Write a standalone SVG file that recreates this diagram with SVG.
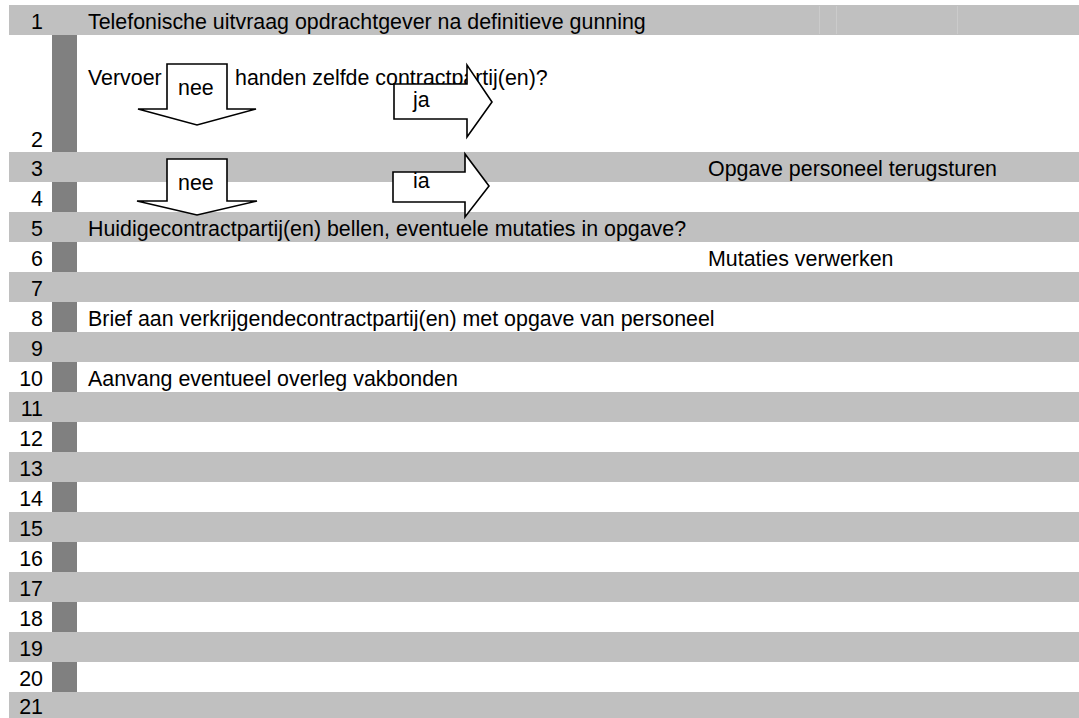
<svg xmlns="http://www.w3.org/2000/svg" width="1079" height="718" viewBox="0 0 1079 718">
<style>
text{font-family:"Liberation Sans",Arial,sans-serif;font-size:21.4px;fill:#000}
.num{text-anchor:end}
.band{fill:#c0c0c0}
.mark{fill:#808080}
.arrow{fill:#fff;stroke:#000;stroke-width:1.6;stroke-linejoin:miter}
.grid{stroke:#cbcbcb;stroke-width:1}
</style>
<rect x="0" y="0" width="1079" height="718" fill="#fff"/>
<g id="bands">
<rect class="band" x="9" y="5" width="1070" height="30"/>
<rect class="band" x="9" y="152" width="1070" height="30"/>
<rect class="band" x="9" y="212" width="1070" height="30"/>
<rect class="band" x="9" y="272" width="1070" height="30"/>
<rect class="band" x="9" y="332" width="1070" height="30"/>
<rect class="band" x="9" y="392" width="1070" height="30"/>
<rect class="band" x="9" y="452" width="1070" height="30"/>
<rect class="band" x="9" y="512" width="1070" height="30"/>
<rect class="band" x="9" y="572" width="1070" height="30"/>
<rect class="band" x="9" y="632" width="1070" height="30"/>
<rect class="band" x="9" y="692" width="1070" height="26"/>
</g>
<g id="marks">
<rect class="mark" x="52" y="35" width="25" height="117"/>
<rect class="mark" x="52" y="182" width="25" height="30"/>
<rect class="mark" x="52" y="242" width="25" height="30"/>
<rect class="mark" x="52" y="302" width="25" height="30"/>
<rect class="mark" x="52" y="362" width="25" height="30"/>
<rect class="mark" x="52" y="422" width="25" height="30"/>
<rect class="mark" x="52" y="482" width="25" height="30"/>
<rect class="mark" x="52" y="542" width="25" height="30"/>
<rect class="mark" x="52" y="602" width="25" height="30"/>
<rect class="mark" x="52" y="662" width="25" height="30"/>
</g>
<g id="gridlines">
<line class="grid" x1="819.5" y1="6" x2="819.5" y2="34"/>
<line class="grid" x1="836.5" y1="6" x2="836.5" y2="34"/>
<line class="grid" x1="957.5" y1="6" x2="957.5" y2="34"/>
</g>
<g id="row-numbers">
<text class="num" x="43" y="29">1</text>
<text class="num" x="43" y="147">2</text>
<text class="num" x="43" y="176">3</text>
<text class="num" x="43" y="206">4</text>
<text class="num" x="43" y="236">5</text>
<text class="num" x="43" y="266">6</text>
<text class="num" x="43" y="296">7</text>
<text class="num" x="43" y="326">8</text>
<text class="num" x="43" y="356">9</text>
<text class="num" x="43" y="386">10</text>
<text class="num" x="43" y="416">11</text>
<text class="num" x="43" y="446">12</text>
<text class="num" x="43" y="476">13</text>
<text class="num" x="43" y="506">14</text>
<text class="num" x="43" y="536">15</text>
<text class="num" x="43" y="566">16</text>
<text class="num" x="43" y="596">17</text>
<text class="num" x="43" y="626">18</text>
<text class="num" x="43" y="656">19</text>
<text class="num" x="43" y="686">20</text>
<text class="num" x="43" y="714">21</text>
</g>
<g id="step1"><text x="88" y="29">Telefonische uitvraag opdrachtgever na definitieve gunning</text></g>
<g id="step2"><text x="88" y="85">Vervoer</text><text x="235" y="85">handen zelfde contractpartij(en)?</text></g>
<g id="step3"><text x="708" y="176">Opgave personeel terugsturen</text></g>
<g id="step5"><text x="88" y="236">Huidigecontractpartij(en) bellen, eventuele mutaties in opgave?</text></g>
<g id="step6"><text x="708" y="266">Mutaties verwerken</text></g>
<g id="step8"><text x="88" y="326">Brief aan verkrijgendecontractpartij(en) met opgave van personeel</text></g>
<g id="step10"><text x="88" y="386">Aanvang eventueel overleg vakbonden</text></g>
<g id="connectors">
<g id="nee1"><polygon class="arrow" points="167,64 227,64 227,109 256,109 197,125 138,109 167,109"/><text x="178" y="95">nee</text></g>
<g id="ja1"><polygon class="arrow" points="394,84 467,84 467,65 492,102 467,137 467,119 394,119"/><text x="413" y="107">ja</text></g>
<g id="nee2"><polygon class="arrow" points="167,159 227,159 227,201 257,201 197,215 137,201 167,201"/><text x="178" y="190">nee</text></g>
<g id="ja2"><polygon class="arrow" points="393,172 465,172 465,154 489,186 465,217 465,202 393,202"/><text x="413" y="188">ia</text></g>
</g>
</svg>
